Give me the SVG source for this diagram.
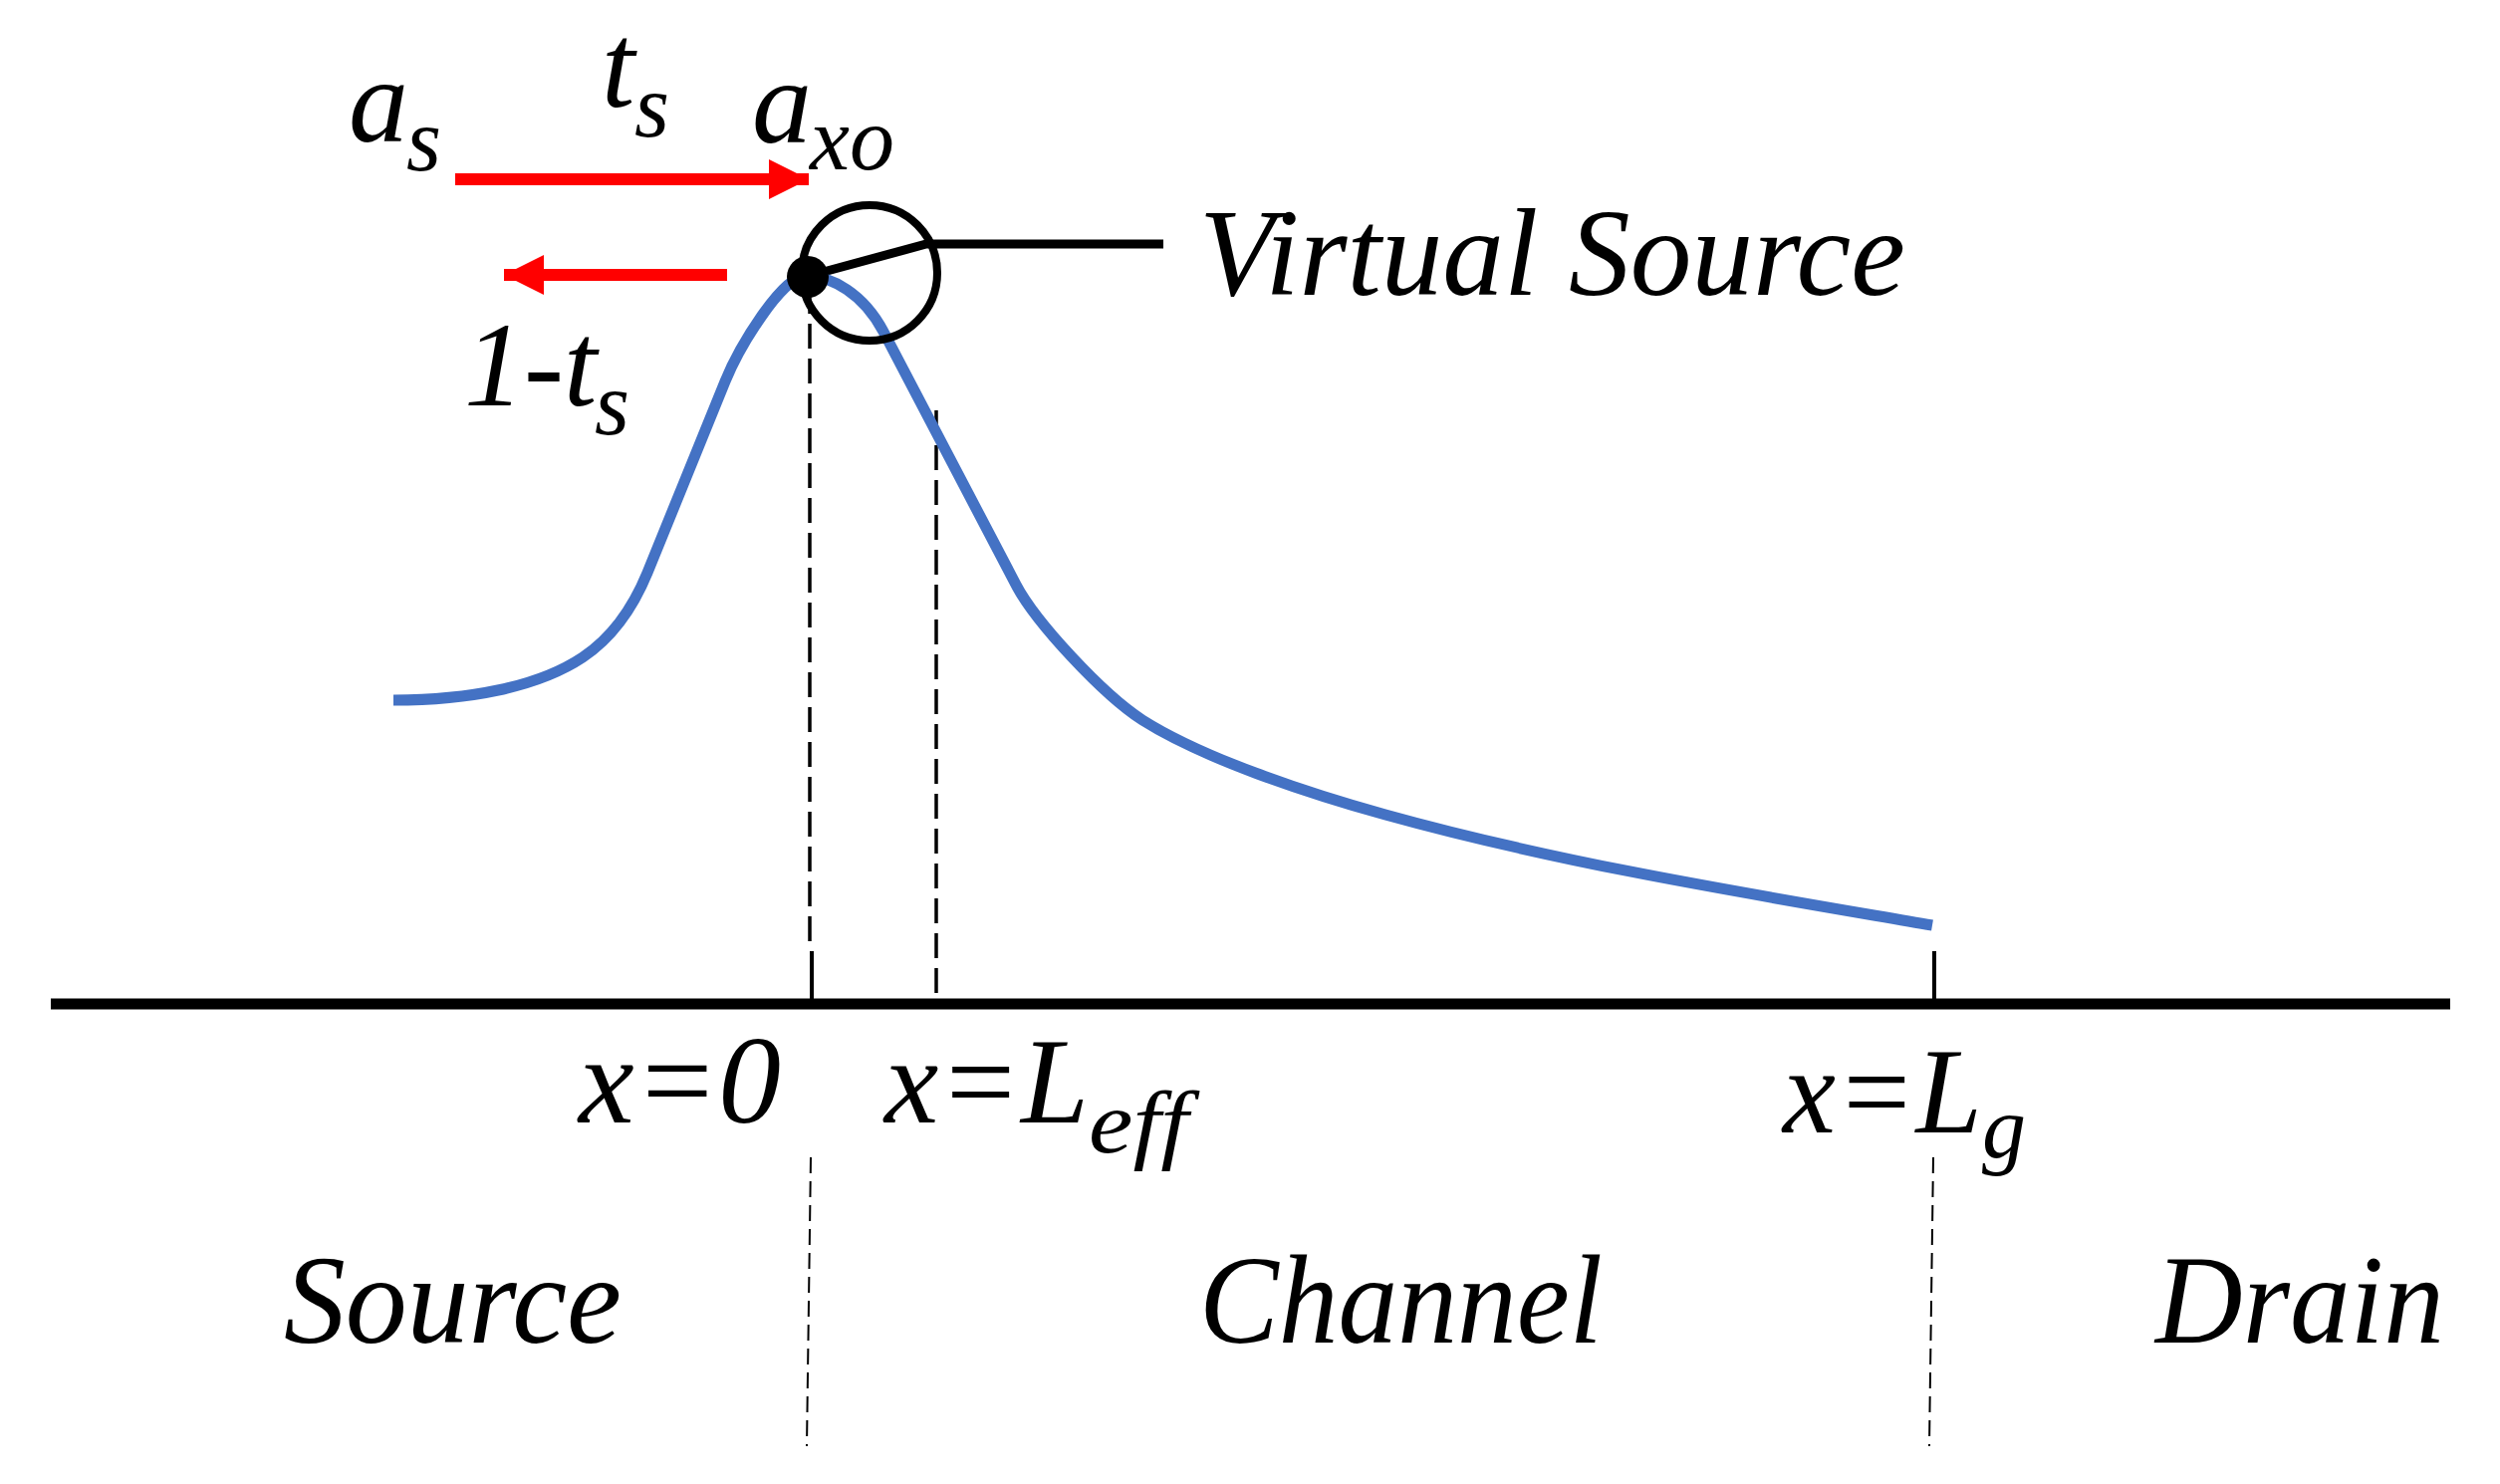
<svg xmlns="http://www.w3.org/2000/svg" width="2510" height="1490" viewBox="0 0 2510 1490">
<style>
.t{font-family:'Liberation Serif', 'Times New Roman', serif;font-style:italic;fill:#000}
.big{font-size:120px}
.sub{font-size:90px}
.lbl{font-size:126px}
.dash{stroke:#000;stroke-width:3.5;stroke-dasharray:25 10;fill:none}
.thin{stroke:#000;stroke-width:2;stroke-dasharray:16 8;fill:none}
.red{stroke:#FF0000;stroke-width:12;fill:none}
</style>
<defs>
<marker id="ah" markerUnits="userSpaceOnUse" markerWidth="42" markerHeight="40" refX="40" refY="20" orient="auto">
<path d="M0,0 L40,20 L0,40 Z" fill="#FF0000"/>
</marker>
</defs>
<rect width="2510" height="1490" fill="#fff"/>

<g id="axis">
<line x1="51" y1="1008" x2="2460" y2="1008" stroke="#000" stroke-width="11"/>
<line x1="815" y1="955" x2="815" y2="1005" stroke="#000" stroke-width="4"/>
<line x1="1942" y1="955" x2="1942" y2="1005" stroke="#000" stroke-width="4"/>
</g>

<g id="connectors">
<line class="dash" x1="813" y1="290" x2="813" y2="955"/>
<line class="dash" x1="940" y1="412" x2="940" y2="1004"/>
<line class="thin" x1="814" y1="1162" x2="810" y2="1452"/>
<line class="thin" x1="1941" y1="1162" x2="1937" y2="1452"/>
<line class="red" x1="457" y1="180" x2="812" y2="180" marker-end="url(#ah)"/>
<line class="red" x1="730" y1="276" x2="506" y2="276" marker-end="url(#ah)"/>
<polyline points="812,277 930,245 1168,245" fill="none" stroke="#000" stroke-width="9" stroke-linejoin="miter"/>
</g>

<g id="curve">
<path d="M395,703 C470,703 540,690 585,660 C615,640 636,609 650,575 C663,543 715,415 728,383 C742,349 785,277 809,277 C835,277 867,295 887,333 C907,371 1000,549 1020,587 C1040,625 1107,697 1147,723 C1207,761 1311,796 1391,818 C1571,868 1760,898 1940,929" fill="none" stroke="#4472C4" stroke-width="11" stroke-linejoin="round"/>
</g>

<g id="virtual-source">
<circle cx="873" cy="274" r="68" fill="none" stroke="#000" stroke-width="8"/>
<circle cx="811" cy="278" r="21" fill="#000"/>
<text class="t" x="1204" y="296" font-size="125" textLength="709" lengthAdjust="spacingAndGlyphs">Virtual Source</text>
</g>

<g id="labels-top">
<text class="t big" x="350" y="142">a</text>
<text class="t sub" x="408" y="171">s</text>
<text class="t big" x="604" y="107">t</text>
<text class="t sub" x="637" y="137">s</text>
<text class="t big" x="755" y="143">a</text>
<text class="t sub" x="813" y="170">xo</text>
<text class="t big" x="466" y="407">1-t</text>
<text class="t sub" x="597" y="436">s</text>
</g>

<g id="labels-axis">
<text class="t" x="581" y="1127" font-size="124" textLength="203" lengthAdjust="spacingAndGlyphs">x=0</text>
<text class="t" x="888" y="1127" font-size="122" textLength="205" lengthAdjust="spacingAndGlyphs">x=L</text>
<text class="t" x="1093" y="1157" font-size="88" textLength="100" lengthAdjust="spacingAndGlyphs">eff</text>
<text class="t" x="1790" y="1137" font-size="122" textLength="200" lengthAdjust="spacingAndGlyphs">x=L</text>
<text class="t" x="1990" y="1162" font-size="88">g</text>
</g>

<g id="regions">
<text class="t lbl" x="285" y="1348" textLength="339" lengthAdjust="spacingAndGlyphs">Source</text>
<text class="t lbl" x="1204" y="1348" textLength="405" lengthAdjust="spacingAndGlyphs">Channel</text>
<text class="t lbl" x="2164" y="1348" textLength="290" lengthAdjust="spacingAndGlyphs">Drain</text>
</g>
</svg>
